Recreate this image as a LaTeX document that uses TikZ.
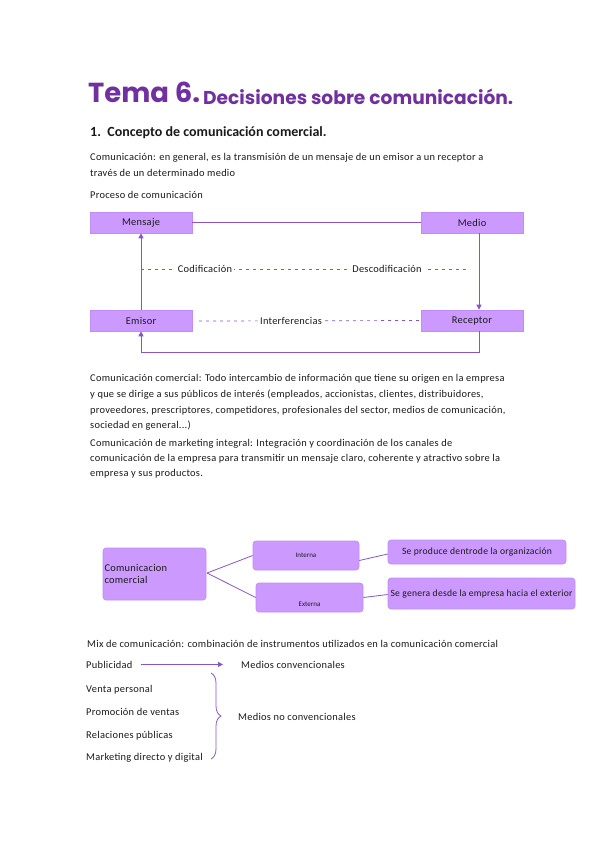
\documentclass[tikz,border=0pt]{standalone}
\usepackage{fontspec}
\setmainfont{Carlito}
\newfontfamily\bodyfont{Carlito}[LetterSpace=2.6]
\newfontfamily\titlefont{Poppins}
\usetikzlibrary{arrows.meta,decorations.pathreplacing}
\definecolor{boxfill}{HTML}{CC99FF}
\definecolor{boxline}{HTML}{C08CF5}
\definecolor{conn}{HTML}{8A55C2}
\definecolor{titlec}{HTML}{7030A0}
\definecolor{ink}{HTML}{1A1A1A}
\newcommand{\bfs}{\bodyfont\fontsize{10.4}{12}\selectfont}
\tikzset{
  txt/.style={anchor=base west, inner sep=0pt, text=ink, font=\bfs},
  box/.style={draw=boxline, fill=boxfill, line width=0.6pt, inner sep=0pt, text=ink,
              minimum width=102pt, minimum height=21pt, font=\bfs},
  rbox/.style={box, rounded corners=3pt},
  conn/.style={draw=conn, line width=0.8pt},
  arr/.style={conn, -{Triangle[length=5pt,width=5pt]}},
  dsh/.style={draw=conn, line width=0.7pt, dash pattern=on 3pt off 4pt},
  lbl/.style={fill=white, inner sep=2pt, text=ink, font=\bfs}
}
\begin{document}
\begin{tikzpicture}[x=1pt,y=-1pt]
\useasboundingbox[fill=white] (0,0) rectangle (599,848);
% title
\node[anchor=base west, inner sep=0pt, text=titlec] (t1) at (88,103)
  {\resizebox{112pt}{!}{\titlefont\bfseries Tema 6.}};
\node[anchor=base west, inner sep=0pt, text=titlec] (t2) at (203,104)
  {\resizebox{310pt}{!}{\titlefont\bfseries Decisiones sobre comunicación.}};
\node[anchor=base west, inner sep=0pt, text=ink, font=\fontsize{14}{16}\bfseries] (h1) at (90,136)
  {1.\ \ Concepto de comunicación comercial.};
\node[txt] (p1) at (90,160) {Comunicación: en general, es la transmisión de un mensaje de un emisor a un receptor a};
\node[txt] (p2) at (90,176) {través de un determinado medio};
\node[txt] (p3) at (90,198) {Proceso de comunicación};
% process diagram
\node[box] (mensaje) at (141,222.5) {Mensaje};
\node[box] (medio) at (472,222.5) {Medio};
\node[box] (emisor) at (141,320.5) {Emisor};
\node[box] (receptor) at (472,320.5) {Receptor};
\draw[conn] (mensaje.east) -- (medio.west);
\draw[arr] (emisor.north) -- (mensaje.south);
\draw[arr] ([xshift=7pt]medio.south) -- ([xshift=7pt]receptor.north);
\draw[arr] ([xshift=7pt]receptor.south) |- (141,352) -- (emisor.south);
\coordinate (d1a) at (141,269);
\coordinate (d1b) at (470,269);
\draw[dsh] (d1a) -- (d1b);
\node[lbl] (cod) at (205,269) {Codificación};
\node[lbl] (desc) at (387,269) {Descodificación};
\coordinate (d2a) at (199,321);
\draw[dsh] (d2a) -- (receptor.west);
\node[lbl] (interf) at (291,321) {Interferencias};
% paragraphs
\node[txt] (q1) at (90,381) {Comunicación comercial: Todo intercambio de información que tiene su origen en la empresa};
\node[txt] (q2) at (90,397) {y que se dirige a sus públicos de interés (empleados, accionistas, clientes, distribuidores,};
\node[txt] (q3) at (90,413) {proveedores, prescriptores, competidores, profesionales del sector, medios de comunicación,};
\node[txt] (q4) at (90,428) {sociedad en general...)};
\node[txt] (r1) at (90,446) {Comunicación de marketing integral: Integración y coordinación de los canales de};
\node[txt] (r2) at (90,461) {comunicación de la empresa para transmitir un mensaje claro, coherente y atractivo sobre la};
\node[txt] (r3) at (90,476) {empresa y sus productos.};
% tree diagram
\node[rbox, minimum width=103pt, minimum height=52pt, align=left, text width=100pt] (cc) at (154.5,574)
  {Comunicacion\\comercial};
\node[rbox, minimum width=106pt, minimum height=29pt, font=\fontsize{7}{8}\selectfont] (interna) at (306,555.5) {Interna};
\node[rbox, minimum width=107pt, minimum height=29pt, font=\fontsize{7}{8}\selectfont, text height=17pt, text depth=0pt] (externa) at (309.5,597.5) {Externa};
\node[rbox, minimum width=178pt, minimum height=24pt] (dentro) at (477,552)
  {\resizebox{150pt}{!}{\fontsize{9}{10}\selectfont Se produce dentrode la organización}};
\node[rbox, minimum width=187pt, minimum height=31pt] (fuera) at (481.5,593.5)
  {\resizebox{182pt}{!}{\fontsize{9}{10}\selectfont Se genera desde la empresa hacia el exterior}};
\coordinate (ccr) at (207,573);
\draw[conn] (ccr) -- (interna.west);
\draw[conn] (ccr) -- (externa.west);
\draw[conn] ([yshift=-5pt]interna.east) -- ([yshift=-2pt]dentro.west);
\draw[conn] (externa.east) -- ([yshift=-1pt]fuera.west);
% mix
\node[txt] (m0) at (87,647) {Mix de comunicación: combinación de instrumentos utilizados en la comunicación comercial};
\node[txt] (m1) at (86,668) {Publicidad};
\node[txt] (m2) at (86,692) {Venta personal};
\node[txt] (m3) at (86,715) {Promoción de ventas};
\node[txt] (m4) at (86,738) {Relaciones públicas};
\node[txt] (m5) at (86,760) {Marketing directo y digital};
\node[txt] (conv) at (241,668) {Medios convencionales};
\node[txt] (noconv) at (238,720) {Medios no convencionales};
\draw[arr] ([xshift=8pt]m1.east) -- ([xshift=-18pt]conv.west);
\coordinate (b1) at (211,673);
\coordinate (b2) at (211,759);
\draw[draw=conn, line width=0.8pt, decorate, decoration={brace, amplitude=10pt, aspect=0.5}] (b1) -- (b2);
\end{tikzpicture}
\end{document}
